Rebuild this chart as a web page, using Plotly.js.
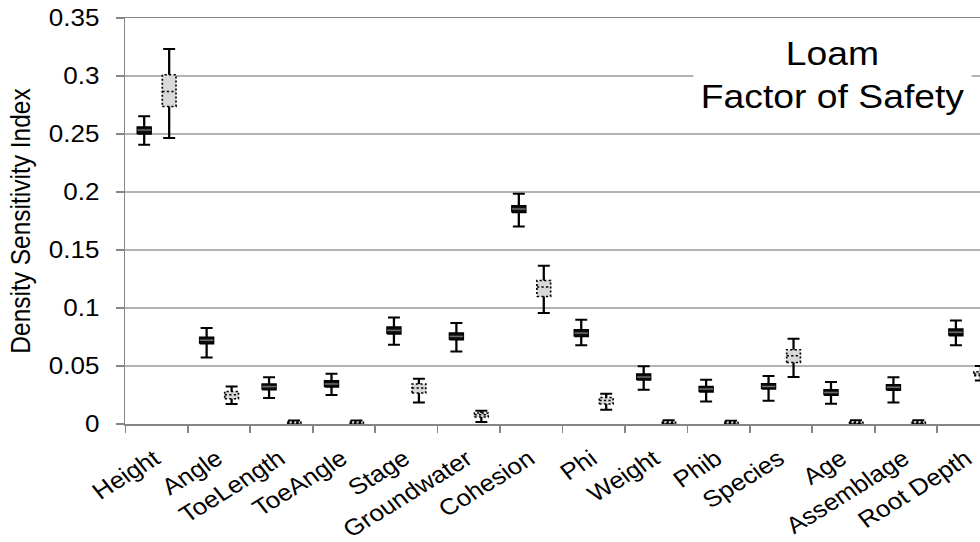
<!DOCTYPE html>
<html>
<head>
<meta charset="utf-8">
<script src="https://cdn.plot.ly/plotly-3.0.1.min.js"></script>
<style>
  html, body { margin: 0; padding: 0; background: #fff; }
  #wrap { width: 980px; height: 542px; overflow: hidden; position: relative; }
  /* the chart is laid out at a narrower width and widened horizontally */
  #chart { width: 867px; height: 542px; transform: scaleX(1.1303); transform-origin: 0 0; }
</style>
</head>
<body>
<div id="wrap"><div id="chart"></div></div>
<script>
// Parameters on the x axis
const categories = ['Height', 'Angle', 'ToeLength', 'ToeAngle', 'Stage', 'Groundwater', 'Cohesion',
                    'Phi', 'Weight', 'Phib', 'Species', 'Age', 'Assemblage', 'Root Depth'];

// First series (solid black boxes)
const aLower  = [0.2408, 0.0574, 0.0224, 0.0250, 0.0684, 0.0626, 0.1703, 0.0678, 0.0296, 0.0195, 0.0201, 0.0175, 0.0186, 0.0678];
const aQ1     = [0.2500, 0.0692, 0.0296, 0.0319, 0.0776, 0.0727, 0.1824, 0.0755, 0.0379, 0.0276, 0.0302, 0.0247, 0.0290, 0.0761];
const aMedian = [0.2534, 0.0721, 0.0322, 0.0345, 0.0807, 0.0755, 0.1853, 0.0784, 0.0405, 0.0302, 0.0324, 0.0272, 0.0316, 0.0790];
const aQ3     = [0.2560, 0.0747, 0.0345, 0.0373, 0.0836, 0.0784, 0.1882, 0.0813, 0.0431, 0.0324, 0.0347, 0.0296, 0.0339, 0.0819];
const aUpper  = [0.2652, 0.0828, 0.0402, 0.0434, 0.0919, 0.0871, 0.1985, 0.0899, 0.0497, 0.0382, 0.0414, 0.0362, 0.0402, 0.0893];

// Second series (light grey, dotted boxes)
const bLower  = [0.2466, 0.0172, 0.0000, 0.0000, 0.0186, 0.0017, 0.0957, 0.0123, 0.0000, 0.0000, 0.0405, 0.0000, 0.0000, 0.0376];
const bQ1     = [0.2738, 0.0218, 0.0005, 0.0005, 0.0267, 0.0060, 0.1100, 0.0172, 0.0006, 0.0004, 0.0531, 0.0006, 0.0006, 0.0417];
const bMedian = [0.2867, 0.0253, 0.0013, 0.0013, 0.0310, 0.0080, 0.1181, 0.0203, 0.0015, 0.0012, 0.0589, 0.0015, 0.0015, 0.0430];
const bQ3     = [0.3011, 0.0281, 0.0022, 0.0022, 0.0345, 0.0095, 0.1238, 0.0229, 0.0025, 0.0021, 0.0641, 0.0025, 0.0025, 0.0450];
const bUpper  = [0.3233, 0.0324, 0.0030, 0.0030, 0.0390, 0.0115, 0.1365, 0.0261, 0.0033, 0.0028, 0.0735, 0.0033, 0.0033, 0.0500];

// y axis ticks
const yTickVals = [0, 0.05, 0.1, 0.15, 0.2, 0.25, 0.3, 0.35];
const yTickText = ['0', '0.05', '0.1', '0.15', '0.2', '0.25', '0.3', '0.35'];

const FONT = 'Liberation Sans, Arial, sans-serif';
const AXIS_GREY = '#868686';
const OFFSET = 0.2;      // each series sits this far either side of the category centre
const HALF_W = 0.11;     // half width of a box, in category units

function whiskers(shift, lower, median, upper) {
  return {
    type: 'scatter', mode: 'markers', hoverinfo: 'skip', showlegend: false,
    x: categories.map((_, i) => i + shift),
    y: median,
    marker: { size: 1, opacity: 0 },
    error_y: {
      type: 'data', symmetric: false,
      array: upper.map((u, i) => u - median[i]),
      arrayminus: median.map((m, i) => m - lower[i]),
      width: 5.3, thickness: 2, color: '#000'
    }
  };
}

function boxes(shift, q1, q3, fill, dash) {
  const x = [], y = [];
  categories.forEach((_, i) => {
    const c = i + shift;
    x.push(c - HALF_W, c + HALF_W, c + HALF_W, c - HALF_W, c - HALF_W, null);
    y.push(q1[i], q1[i], q3[i], q3[i], q1[i], null);
  });
  return {
    type: 'scatter', mode: 'lines', hoverinfo: 'skip', showlegend: false,
    x, y, fill: 'toself', fillcolor: fill,
    line: { color: '#000', width: 1.5, dash: dash }
  };
}

function medians(shift, median, color, dash) {
  const x = [], y = [];
  categories.forEach((_, i) => {
    const c = i + shift;
    x.push(c - HALF_W, c + HALF_W, null);
    y.push(median[i], median[i], null);
  });
  return {
    type: 'scatter', mode: 'lines', hoverinfo: 'skip', showlegend: false,
    x, y, line: { color: color, width: 1.5, dash: dash }
  };
}

const data = [
  whiskers(-OFFSET, aLower, aMedian, aUpper),
  whiskers(OFFSET, bLower, bMedian, bUpper),
  boxes(-OFFSET, aQ1, aQ3, '#0d0d0d', 'solid'),
  boxes(OFFSET, bQ1, bQ3, '#d9d9d9', '2px,2px'),
  medians(-OFFSET, aMedian, '#6e6e6e', 'solid'),
  medians(OFFSET, bMedian, '#000', '2px,2px')
];

const layout = {
  width: 867, height: 542,
  margin: { l: 110.6, r: 0, t: 18.3, b: 117.7, pad: 0 },
  paper_bgcolor: '#fff', plot_bgcolor: '#fff',
  font: { family: FONT, color: '#000', size: 23 },
  hovermode: false,
  showlegend: false,
  xaxis: {
    range: [-0.5, 13.186],
    tickmode: 'array',
    tickvals: categories.map((_, i) => i),
    ticktext: categories,
    ticks: '',
    tickangle: -35,
    ticklabelstandoff: 11,
    ticklabelshift: -2,
    tickfont: { family: FONT, size: 23, color: '#000' },
    showline: true, linecolor: AXIS_GREY, linewidth: 1.5, mirror: true,
    showgrid: false, zeroline: false, automargin: false,
    minor: { tick0: -0.5, dtick: 1, ticks: 'outside', ticklen: 7, tickcolor: AXIS_GREY, tickwidth: 1.5, showgrid: false }
  },
  yaxis: {
    range: [0, 0.35],
    tickmode: 'array', tickvals: yTickVals, ticktext: yTickText,
    ticks: 'outside', ticklen: 7, tickcolor: AXIS_GREY, tickwidth: 1.5,
    ticklabelstandoff: 10,
    tickfont: { family: FONT, size: 23, color: '#000' },
    showline: true, linecolor: AXIS_GREY, linewidth: 1.5,
    gridcolor: '#b3b3b3', gridwidth: 1.5, zeroline: false, automargin: false,
    title: { text: 'Density Sensitivity Index', font: { family: FONT, size: 24.5, color: '#000' }, standoff: 9 }
  },
  annotations: [{
    xref: 'x', yref: 'y', x: 10.83, y: 0.301,
    text: 'Loam<br>Factor of Safety',
    showarrow: false, xanchor: 'center', yanchor: 'middle', align: 'center',
    font: { family: FONT, size: 33, color: '#000' },
    bgcolor: '#fff', borderpad: 6
  }]
};

Plotly.newPlot('chart', data, layout, { displayModeBar: false, staticPlot: true });
</script>
</body>
</html>
